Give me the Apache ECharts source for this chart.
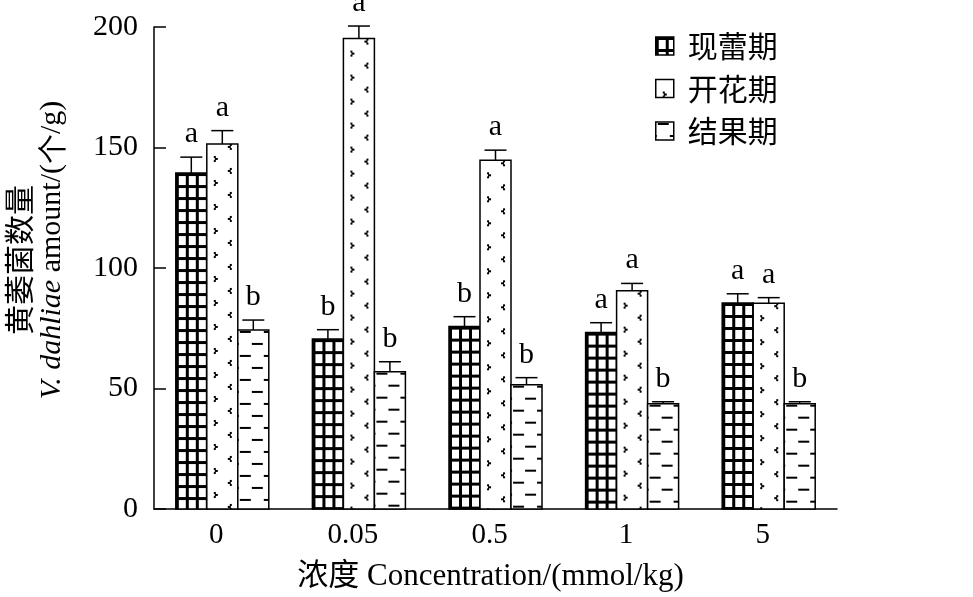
<!DOCTYPE html>
<html>
<head>
<meta charset="utf-8">
<script src="https://cdn.jsdelivr.net/npm/echarts@6/dist/echarts.min.js"></script>
<style>
html,body{margin:0;padding:0;background:#fff;}
#chart{width:973px;height:597px;}
</style>
</head>
<body>
<div id="chart"></div>
<script>
// ---- data ----
const categories = ['0', '0.05', '0.5', '1', '5'];
const seriesNames = ['现蕾期', '开花期', '结果期'];
const budValues = [139.4, 70.5, 75.7, 73.2, 85.5];
const budErr = [6.6, 3.9, 4.1, 4.1, 3.8];
const bloomValues = [151.5, 195.2, 144.7, 90.6, 85.4];
const bloomErr = [5.5, 5.2, 4.2, 3.0, 2.3];
const fruitValues = [74.3, 57.0, 51.6, 43.7, 43.7];
const fruitErr = [4.1, 4.1, 2.9, 0.8, 0.8];
const budLetters = ['a', 'b', 'b', 'a', 'a'];
const bloomLetters = ['a', 'a', 'a', 'a', 'a'];
const fruitLetters = ['b', 'b', 'b', 'b', 'b'];
const yTicks = [0, 50, 100, 150, 200];

// ---- patterns ----
function tile(w, h, draw) {
  const c = document.createElement('canvas');
  c.width = w; c.height = h;
  const g = c.getContext('2d');
  g.fillStyle = '#fff'; g.fillRect(0, 0, w, h);
  g.fillStyle = '#000';
  draw(g);
  return c;
}
const gridTile = tile(10, 12, g => {
  g.fillRect(0, 0, 3, 12);
  g.fillRect(0, 0, 10, 3);
});
const dotTile = tile(31, 24, g => {
  // ">" mark
  g.fillRect(7, 12, 2, 2); g.fillRect(8, 14, 3, 2); g.fillRect(7, 16, 2, 2);
  // "<" mark
  g.fillRect(23, 0, 2, 2); g.fillRect(21, 2, 3, 2); g.fillRect(23, 4, 2, 2);
});
const dashTile = tile(24, 24, g => {
  g.fillRect(2, 1, 11, 2);
  g.fillRect(14, 13, 10, 2);
  g.fillRect(0, 13, 1, 2);
});
const patterns = [
  { image: gridTile, repeat: 'repeat' },
  { image: dotTile, repeat: 'repeat' },
  { image: dashTile, repeat: 'repeat' }
];

const valuesList = [budValues, bloomValues, fruitValues];
const errList = [budErr, bloomErr, fruitErr];
const lettersList = [budLetters, bloomLetters, fruitLetters];

const BW = 31;
const LATIN = 'Liberation Serif';
const CJK = 'Noto Sans CJK SC';

function makeRender(si) {
  return function (params, api) {
    const ci = api.value(0), v = api.value(1), e = api.value(2);
    const p0 = api.coord([ci, 0]);
    const p1 = api.coord([ci, v]);
    const p2 = api.coord([ci, v + e]);
    const x = p0[0] + (si - 1.5) * BW;
    const cx = x + BW / 2;
    return {
      type: 'group',
      children: [
        { type: 'rect', x: x, y: p1[1], shape: { x: 0, y: 0, width: BW, height: p0[1] - p1[1] },
          style: { fill: patterns[si], stroke: '#000', lineWidth: 1.5 } },
        { type: 'line', shape: { x1: cx, y1: p1[1], x2: cx, y2: p2[1] }, style: { stroke: '#000', lineWidth: 1.5 } },
        { type: 'line', shape: { x1: cx - 11, y1: p2[1], x2: cx + 11, y2: p2[1] }, style: { stroke: '#000', lineWidth: 1.5 } },
        { type: 'text', x: cx, y: p2[1] - 8,
          style: { text: lettersList[si][params.dataIndex], fontSize: 30, fontFamily: LATIN, fill: '#000', align: 'center', verticalAlign: 'bottom' } }
      ]
    };
  };
}

const series = seriesNames.map((name, si) => ({
  name: name,
  type: 'custom',
  renderItem: makeRender(si),
  itemStyle: { color: patterns[si], borderColor: '#000', borderWidth: 1.5 },
  encode: { x: 0, y: 1 },
  data: valuesList[si].map((v, i) => [i, v, errList[si][i]])
}));

const chart = echarts.init(document.getElementById('chart'), null, { renderer: 'canvas' });
chart.setOption({
  animation: false,
  backgroundColor: '#fff',
  grid: { left: 154, right: 136, top: 27, bottom: 88 },
  legend: {
    data: seriesNames,
    orient: 'vertical',
    left: 650,
    top: 26,
    icon: 'rect',
    itemWidth: 18,
    itemHeight: 18,
    itemGap: 12.5,
    itemStyle: { borderColor: '#000', borderWidth: 1.5 },
    textStyle: { fontSize: 30, fontFamily: CJK, color: '#000', lineHeight: 30, padding: [0, 0, 0, 9] }
  },
  xAxis: {
    type: 'category',
    data: categories,
    axisLine: { lineStyle: { color: '#000', width: 1.5 } },
    axisTick: { inside: true, length: 12, lineStyle: { color: '#000', width: 1.5 } },
    axisLabel: { fontSize: 29, fontFamily: LATIN, color: '#000', margin: 12, padding: [0, 12, 0, 0] },
    name: '浓度 Concentration/(mmol/kg)',
    nameLocation: 'middle',
    nameGap: 52,
    nameTextStyle: { fontSize: 31, fontFamily: LATIN + ', ' + CJK, color: '#000', padding: [0, 10, 0, 0] }
  },
  yAxis: {
    type: 'value',
    min: yTicks[0],
    max: yTicks[yTicks.length - 1],
    interval: yTicks[1] - yTicks[0],
    splitLine: { show: false },
    axisLine: { show: true, lineStyle: { color: '#000', width: 1.5 } },
    axisTick: { show: true, inside: true, length: 12, lineStyle: { color: '#000', width: 1.5 } },
    axisLabel: { fontSize: 30, fontFamily: LATIN, color: '#000', margin: 16 }
  },
  graphic: [
    { type: 'text', x: 19, y: 260, rotation: Math.PI / 2,
      style: { text: '黄萎菌数量', fontSize: 30, fontFamily: CJK, fill: '#000', align: 'center', verticalAlign: 'middle' } },
    { type: 'text', x: 52, y: 250, rotation: Math.PI / 2,
      style: {
        text: '{i|V. dahliae} {n|amount/(}{c|个}{n|/g)}',
        fontSize: 30, fontFamily: LATIN, fill: '#000', align: 'center', verticalAlign: 'middle',
        rich: {
          i: { fontSize: 30, fontFamily: LATIN, fontStyle: 'italic', fill: '#000' },
          n: { fontSize: 30, fontFamily: LATIN, fill: '#000' },
          c: { fontSize: 30, fontFamily: CJK, fill: '#000' }
        }
      } }
  ],
  series: series
});
</script>
</body>
</html>
